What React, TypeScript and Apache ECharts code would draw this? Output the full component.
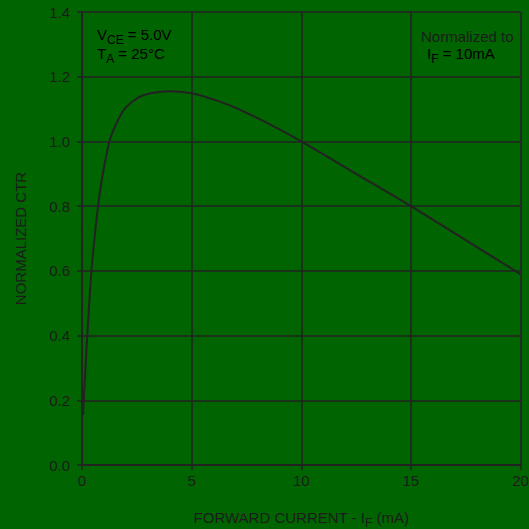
import React, { useEffect, useRef } from "react";
import * as echarts from "echarts";

const forwardCurrent = [0.05, 0.08, 0.15, 0.24, 0.33, 0.43, 0.57, 0.73, 0.95, 1.25, 1.6, 2.0, 2.6, 3.2, 4.0, 5.0, 5.7, 6.3, 7.2, 8.7, 10, 12.5, 15, 17.5, 20];
const normalizedCtr = [0.155, 0.2, 0.29, 0.4, 0.5, 0.6, 0.7, 0.8, 0.9, 1.0, 1.06, 1.105, 1.137, 1.15, 1.155, 1.149, 1.136, 1.123, 1.098, 1.048, 1.0, 0.9, 0.8, 0.695, 0.59];

const xTicks = [0, 5, 10, 15, 20];
const yTicks = [0, 0.2, 0.4, 0.6, 0.8, 1.0, 1.2, 1.4];

const TEXT = "#1c1c1c";
const LINE = "#222222";
const BG = "#006400";
const FONT = "'Liberation Sans', Arial, Helvetica, sans-serif";

export default function App() {
  const ref = useRef<HTMLDivElement>(null);
  useEffect(() => {
    document.body.style.margin = "0";
    const chart = echarts.init(ref.current!, null, { renderer: "svg" });
    const rich = {
      m: { fontSize: 15, fontFamily: FONT, color: TEXT, lineHeight: 15, verticalAlign: "top" },
      s: { fontSize: 12, fontFamily: FONT, color: TEXT, lineHeight: 19, verticalAlign: "bottom" },
    };
    chart.setOption({
      animation: false,
      backgroundColor: BG,
      textStyle: { fontFamily: FONT, color: TEXT },
      grid: { left: 82, right: 8.5, top: 12, bottom: 64, containLabel: false, outerBoundsMode: "none" },
      xAxis: {
        type: "value",
        min: 0,
        max: 20,
        interval: 5,
        name: "{m|FORWARD CURRENT - I}{s|F}{m| (mA)}",
        nameLocation: "middle",
        nameGap: 45,
        nameTextStyle: { rich },
        axisLine: { lineStyle: { color: LINE, width: 2 } },
        axisTick: { show: true, length: 5, lineStyle: { color: LINE, width: 1.5 } },
        axisLabel: {
          color: TEXT,
          fontSize: 15,
          fontFamily: FONT,
          margin: 8,
          formatter: (v: number) => (xTicks.includes(v) ? String(v) : ""),
        },
        splitLine: { show: true, lineStyle: { color: LINE, width: 1.5 } },
      },
      yAxis: {
        type: "value",
        min: 0,
        max: 1.4,
        interval: 0.2,
        name: "NORMALIZED CTR",
        nameLocation: "middle",
        nameGap: 54,
        nameTextStyle: { color: TEXT, fontSize: 15, fontFamily: FONT },
        axisLine: { show: true, lineStyle: { color: LINE, width: 2 } },
        axisTick: { show: true, length: 5, lineStyle: { color: LINE, width: 1.5 } },
        axisLabel: {
          color: TEXT,
          fontSize: 15,
          fontFamily: FONT,
          margin: 12,
          formatter: (v: number) => {
            const t = yTicks.find((y) => Math.abs(y - v) < 1e-6);
            return t === undefined ? "" : t.toFixed(1);
          },
        },
        splitLine: { show: true, lineStyle: { color: LINE, width: 1.5 } },
      },
      graphic: [
        {
          type: "text",
          left: 97,
          top: 27,
          style: { text: "{m|V}{s|CE}{m| = 5.0V}", rich },
        },
        {
          type: "text",
          left: 97,
          top: 46,
          style: { text: "{m|T}{s|A}{m| = 25°C}", rich },
        },
        {
          type: "text",
          left: 421,
          top: 29,
          style: { text: "Normalized to", fontSize: 15, lineHeight: 15, fontFamily: FONT, fill: TEXT },
        },
        {
          type: "text",
          left: 427,
          top: 46,
          style: { text: "{m|I}{s|F}{m| = 10mA}", rich },
        },
      ],
      series: [
        {
          type: "line",
          data: forwardCurrent.map((x, i) => [x, normalizedCtr[i]]),
          showSymbol: false,
          smooth: 0.3,
          lineStyle: { color: LINE, width: 2 },
        },
      ],
    });
    return () => chart.dispose();
  }, []);
  return <div ref={ref} style={{ position: "absolute", left: 0, top: 0, width: 529, height: 529 }} />;
}
